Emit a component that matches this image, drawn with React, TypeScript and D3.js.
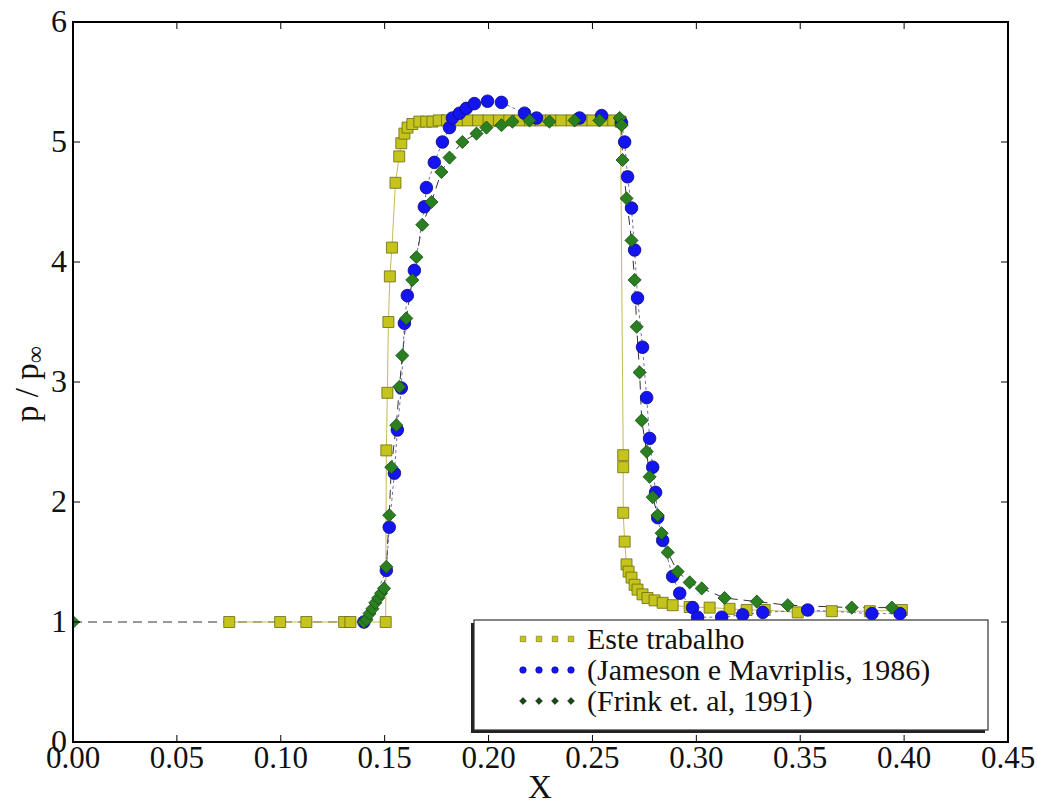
import React from "react";
import * as d3 from "d3";

const xTicks = [0, 0.05, 0.1, 0.15, 0.2, 0.25, 0.3, 0.35, 0.4, 0.45];
const yTicks = [0, 1, 2, 3, 4, 5, 6];

const legendLabels = ["Este trabalho", "(Jameson e Mavriplis, 1986)", "(Frink et. al, 1991)"];

const este: [number, number][] = [
  [0.0752, 1.0], [0.0997, 1.0], [0.1123, 1.0], [0.1305, 1.0], [0.1335, 1.0], [0.1505, 1.0],
  [0.1508, 2.43], [0.1513, 2.91], [0.1518, 3.5], [0.1525, 3.88], [0.1535, 4.12], [0.1552, 4.66],
  [0.157, 4.88], [0.158, 4.99], [0.1595, 5.07], [0.161, 5.12], [0.1633, 5.15], [0.1667, 5.17],
  [0.17, 5.17], [0.173, 5.17], [0.176, 5.18], [0.18, 5.18], [0.185, 5.18], [0.19, 5.18],
  [0.195, 5.18], [0.2, 5.18], [0.205, 5.18], [0.21, 5.18], [0.215, 5.18], [0.22, 5.18],
  [0.225, 5.18], [0.23, 5.18], [0.235, 5.18], [0.24, 5.18], [0.245, 5.18], [0.25, 5.18],
  [0.255, 5.18], [0.26, 5.18], [0.2635, 5.17],
  [0.2648, 2.39], [0.2648, 2.29], [0.2648, 1.91], [0.2655, 1.67], [0.2664, 1.48], [0.2674, 1.42],
  [0.2688, 1.37], [0.2703, 1.31], [0.2717, 1.27], [0.2741, 1.23], [0.2765, 1.2], [0.2799, 1.18],
  [0.2838, 1.16], [0.2886, 1.14], [0.2968, 1.125], [0.3064, 1.12], [0.316, 1.11], [0.3242, 1.1],
  [0.3329, 1.1], [0.3488, 1.08], [0.3652, 1.09], [0.3835, 1.09], [0.3989, 1.1],
];

const jameson: [number, number][] = [
  [0.14, 1.0], [0.1508, 1.43], [0.1522, 1.79], [0.1547, 2.24], [0.1561, 2.6], [0.158, 2.95],
  [0.1595, 3.49], [0.1609, 3.72], [0.1643, 3.93], [0.1691, 4.46], [0.1701, 4.62], [0.1739, 4.83],
  [0.1778, 5.0], [0.1812, 5.12], [0.1826, 5.2], [0.186, 5.24], [0.1893, 5.28], [0.1932, 5.32],
  [0.1995, 5.34], [0.2062, 5.33], [0.2173, 5.24], [0.2231, 5.2], [0.2438, 5.2], [0.2544, 5.22],
  [0.264, 5.16], [0.2655, 5.0], [0.2669, 4.71], [0.2688, 4.45], [0.2703, 4.1], [0.2717, 3.7],
  [0.2741, 3.29], [0.2761, 2.87], [0.2775, 2.53], [0.279, 2.29], [0.2804, 2.08], [0.2814, 1.87],
  [0.2838, 1.68], [0.2886, 1.38], [0.292, 1.24], [0.2982, 1.12], [0.3006, 1.04], [0.3122, 1.04],
  [0.3223, 1.06], [0.332, 1.08], [0.3536, 1.1], [0.3845, 1.07], [0.398, 1.07],
];

const frink: [number, number][] = [
  [0.0, 1.0], [0.14, 1.0], [0.1413, 1.02], [0.1427, 1.07], [0.1441, 1.11], [0.1455, 1.16],
  [0.1469, 1.2], [0.1483, 1.24], [0.1497, 1.28], [0.1508, 1.46], [0.1522, 1.89], [0.1532, 2.29],
  [0.1556, 2.64], [0.1571, 2.96], [0.1585, 3.22], [0.1604, 3.53], [0.1633, 3.85], [0.1653, 4.04],
  [0.1681, 4.31], [0.1725, 4.5], [0.1773, 4.75], [0.1812, 4.87], [0.1874, 5.0], [0.1942, 5.07],
  [0.199, 5.12], [0.2062, 5.14], [0.2115, 5.17], [0.2197, 5.18], [0.2293, 5.17], [0.2414, 5.18],
  [0.2534, 5.18], [0.2631, 5.2], [0.264, 5.14], [0.2645, 4.85], [0.2664, 4.53], [0.2688, 4.18],
  [0.2703, 3.85], [0.2713, 3.46], [0.2727, 3.08], [0.2737, 2.68], [0.2761, 2.42], [0.2775, 2.21],
  [0.279, 2.04], [0.2814, 1.89], [0.2833, 1.74], [0.2862, 1.58], [0.291, 1.42], [0.2968, 1.33],
  [0.3026, 1.28], [0.3136, 1.2], [0.3291, 1.17], [0.344, 1.14], [0.3748, 1.12], [0.3941, 1.12],
];

const W = 1037;
const H = 805;
const L = 73, R = 1008, T = 22, B = 742;
const FONT = "Liberation Serif, Times New Roman, Times, serif";

const YEL = "#c4c41c";
const YEL_EDGE = "#6b6b10";
const BLU = "#1414f0";
const BLU_EDGE = "#0a0a80";
const GRN = "#2a8020";
const GRN_EDGE = "#154a10";

export default function App() {
  const x = d3.scaleLinear().domain([0, 0.45]).range([L, R]);
  const y = d3.scaleLinear().domain([0, 6]).range([B, T]);
  const line = d3.line<[number, number]>().x((d) => x(d[0])).y((d) => y(d[1]));

  const sq = d3.symbol().type(d3.symbolSquare).size(121)();
  const circ = d3.symbol().type(d3.symbolCircle).size(125)();
  const dia = d3.symbol().type(d3.symbolDiamond2).size(110)();
  const sqS = d3.symbol().type(d3.symbolSquare).size(30)();
  const circS = d3.symbol().type(d3.symbolCircle).size(34)();
  const diaS = d3.symbol().type(d3.symbolDiamond2).size(30)();

  const legX = 474, legY = 620, legW = 514, legH = 110;
  const rows = [639, 670, 701];
  const legMarkerX = [523, 539, 555, 571];

  return (
    <svg width={W} height={H} style={{ position: "absolute", left: 0, top: 0, background: "#fff" }}>
      <defs>
        <clipPath id="plotclip">
          <rect x={L} y={T} width={R - L} height={B - T} />
        </clipPath>
      </defs>
      <rect x={0} y={0} width={W} height={H} fill="#fff" />

      <g clipPath="url(#plotclip)">
        <path d={line(frink) || ""} fill="none" stroke="#333" strokeWidth={1} strokeDasharray="9,6" />
        <path d={line(este) || ""} fill="none" stroke="#c8b85a" strokeWidth={1} />
        <path d={line(jameson) || ""} fill="none" stroke="#4a4a9a" strokeWidth={0.8} strokeDasharray="3,3" />
        {este.map((d, i) => (
          <path key={"e" + i} d={sq || ""} transform={`translate(${x(d[0])},${y(d[1])})`} fill={YEL} stroke={YEL_EDGE} strokeWidth={0.8} />
        ))}
        {jameson.map((d, i) => (
          <path key={"j" + i} d={circ || ""} transform={`translate(${x(d[0])},${y(d[1])})`} fill={BLU} stroke={BLU_EDGE} strokeWidth={0.8} />
        ))}
        {frink.map((d, i) => (
          <path key={"f" + i} d={dia || ""} transform={`translate(${x(d[0])},${y(d[1])})`} fill={GRN} stroke={GRN_EDGE} strokeWidth={0.8} />
        ))}
      </g>

      {xTicks.map((t) => (
        <g key={"xt" + t}>
          <line x1={x(t)} x2={x(t)} y1={B} y2={B - 7} stroke="#000" strokeWidth={1} />
          <line x1={x(t)} x2={x(t)} y1={T} y2={T + 7} stroke="#000" strokeWidth={1} />
          <text x={x(t)} y={768} fontFamily={FONT} fontSize={31} textAnchor="middle" fill="#111">
            {d3.format(".2f")(t)}
          </text>
        </g>
      ))}
      {yTicks.map((t) => (
        <g key={"yt" + t}>
          <line x1={L} x2={L + 7} y1={y(t)} y2={y(t)} stroke="#000" strokeWidth={1} />
          <line x1={R} x2={R - 7} y1={y(t)} y2={y(t)} stroke="#000" strokeWidth={1} />
          <text x={67} y={y(t) + 10} fontFamily={FONT} fontSize={32} textAnchor="end" fill="#111">
            {t}
          </text>
        </g>
      ))}

      <rect x={L} y={T} width={R - L} height={B - T} fill="none" stroke="#000" strokeWidth={2} />

      <text x={540} y={798} fontFamily={FONT} fontSize={33} textAnchor="middle" fill="#111">X</text>
      <text transform={`translate(38,384) rotate(-90)`} fontFamily={FONT} fontSize={33} textAnchor="middle" fill="#111">
        p / p<tspan fontSize={24} dy={5}>∞</tspan>
      </text>

      <rect x={legX - 3} y={legY + 3} width={legW} height={legH} fill="#222" />
      <rect x={legX} y={legY} width={legW} height={legH} fill="#fff" stroke="#333" strokeWidth={1.2} />
      {legMarkerX.map((mx, i) => (
        <g key={"lm" + i}>
          <path d={sqS || ""} transform={`translate(${mx},${rows[0]})`} fill={YEL} stroke={YEL_EDGE} strokeWidth={0.6} />
          <path d={circS || ""} transform={`translate(${mx},${rows[1]})`} fill={BLU} stroke={BLU_EDGE} strokeWidth={0.6} />
          <path d={diaS || ""} transform={`translate(${mx},${rows[2]})`} fill={GRN_EDGE} stroke="#111" strokeWidth={0.6} />
        </g>
      ))}
      {legendLabels.map((s, i) => (
        <text key={"ll" + i} x={587} y={rows[i] + 10} fontFamily={FONT} fontSize={30} fill="#111">
          {s}
        </text>
      ))}
    </svg>
  );
}
